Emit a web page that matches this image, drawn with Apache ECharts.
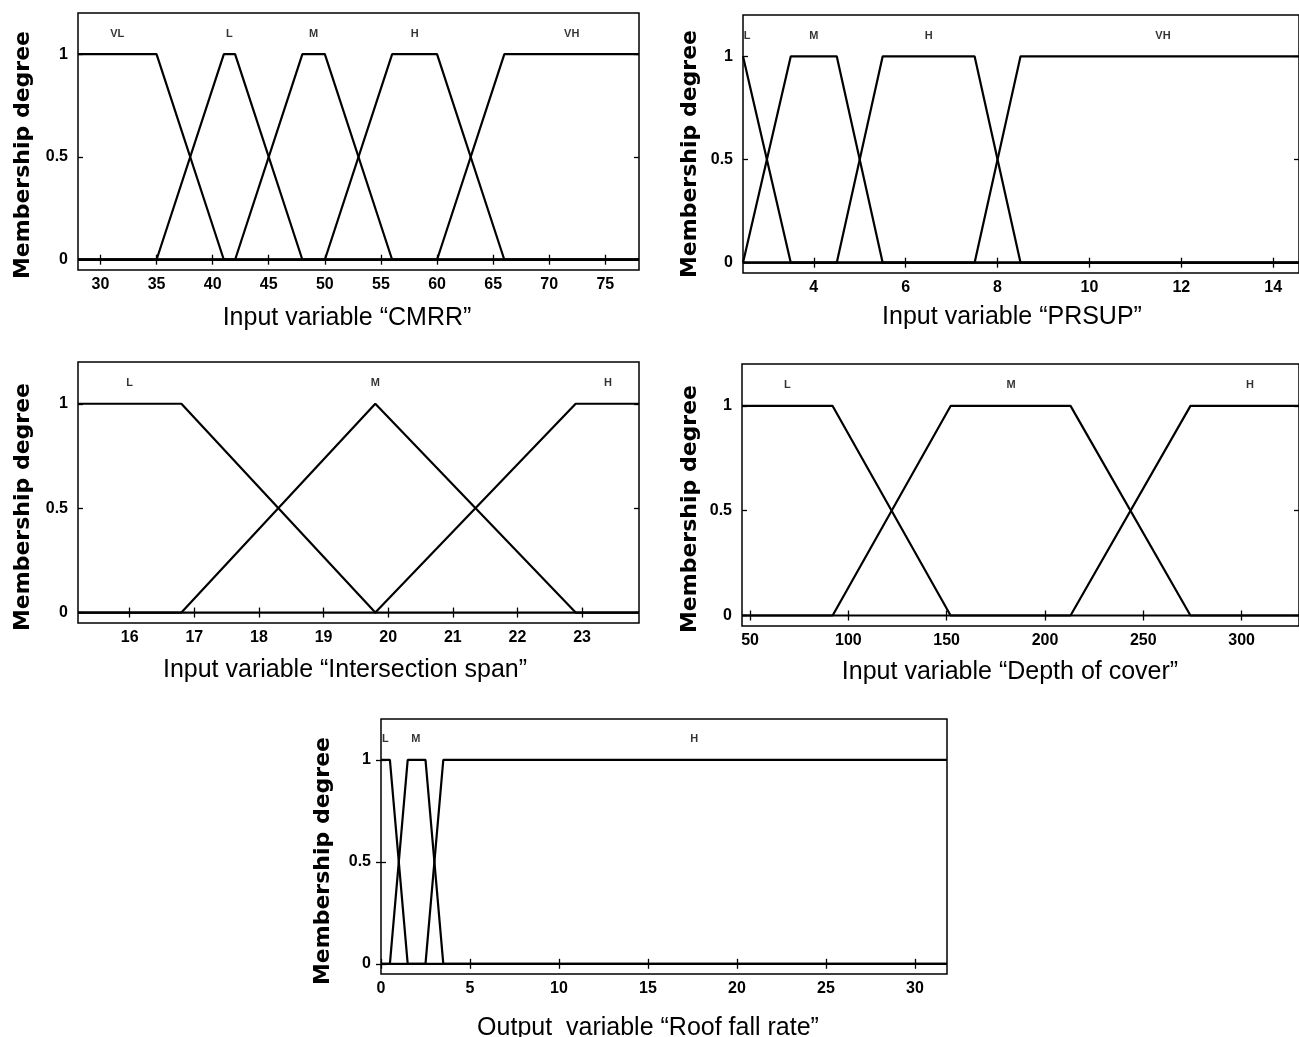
<!DOCTYPE html>
<html>
<head>
<meta charset="utf-8">
<script src="https://cdn.jsdelivr.net/npm/echarts@6/dist/echarts.min.js"></script>
<style>
html, body { margin: 0; padding: 0; background: #fff; }
#chart { width: 1299px; height: 1037px; }
</style>
</head>
<body>
<div id="chart"></div>
<script>
// shared membership levels
const yTicks = [0, 0.5, 1];
const nameLevel = 1.1;

// input "CMRR"
const cmrrTicks = [30, 35, 40, 45, 50, 55, 60, 65, 70, 75];
const cmrrVL = [[28, 1], [35, 1], [41, 0], [78, 0]];
const cmrrL = [[28, 0], [35, 0], [41, 1], [42, 1], [48, 0], [78, 0]];
const cmrrM = [[28, 0], [42, 0], [48, 1], [50, 1], [56, 0], [78, 0]];
const cmrrH = [[28, 0], [50, 0], [56, 1], [60, 1], [66, 0], [78, 0]];
const cmrrVH = [[28, 0], [60, 0], [66, 1], [78, 1]];
const cmrrNames = ['VL', 'L', 'M', 'H', 'VH'];
const cmrrNamePos = [31.5, 41.5, 49, 58, 72];

// input "PRSUP"
const prsupTicks = [4, 6, 8, 10, 12, 14];
const prsupL = [[2.46, 1], [3.5, 0], [14.56, 0]];
const prsupM = [[2.46, 0], [2.5, 0], [3.5, 1], [4.5, 1], [5.5, 0], [14.56, 0]];
const prsupH = [[2.46, 0], [4.5, 0], [5.5, 1], [7.5, 1], [8.5, 0], [14.56, 0]];
const prsupVH = [[2.46, 0], [7.5, 0], [8.5, 1], [14.56, 1]];
const prsupNames = ['L', 'M', 'H', 'VH'];
const prsupNamePos = [2.55, 4, 6.5, 11.6];

// input "Intersection span"
const spanTicks = [16, 17, 18, 19, 20, 21, 22, 23];
const spanL = [[15.2, 1], [16.8, 1], [19.8, 0], [23.88, 0]];
const spanM = [[15.2, 0], [16.8, 0], [19.8, 1], [22.9, 0], [23.88, 0]];
const spanH = [[15.2, 0], [19.8, 0], [22.9, 1], [23.88, 1]];
const spanNames = ['L', 'M', 'H'];
const spanNamePos = [16, 19.8, 23.4];

// input "Depth of cover"
const depthTicks = [50, 100, 150, 200, 250, 300];
const depthL = [[45.9, 1], [92, 1], [152, 0], [329.2, 0]];
const depthM = [[45.9, 0], [92, 0], [152, 1], [213, 1], [274, 0], [329.2, 0]];
const depthH = [[45.9, 0], [213, 0], [274, 1], [329.2, 1]];
const depthNames = ['L', 'M', 'H'];
const depthNamePos = [69, 182.7, 304.2];

// output "Roof fall rate"
const roofTicks = [0, 5, 10, 15, 20, 25, 30];
const roofL = [[0, 1], [0.5, 1], [1.5, 0], [31.8, 0]];
const roofM = [[0, 0], [0.5, 0], [1.5, 1], [2.5, 1], [3.5, 0], [31.8, 0]];
const roofH = [[0, 0], [2.5, 0], [3.5, 1], [31.8, 1]];
const roofNames = ['L', 'M', 'H'];
const roofNamePos = [0.25, 1.96, 17.6];

const panels = [
  { title: 'Input variable \u201cCMRR\u201d', ticks: cmrrTicks, mfs: [cmrrVL, cmrrL, cmrrM, cmrrH, cmrrVH],
    names: cmrrNames, namePos: cmrrNamePos,
    box: { left: 78, top: 13, width: 561, height: 257 }, range: [28, 78], titleAt: [347, 318], yNameAt: [23, 155] },
  { title: 'Input variable \u201cPRSUP\u201d', ticks: prsupTicks, mfs: [prsupL, prsupM, prsupH, prsupVH],
    names: prsupNames, namePos: prsupNamePos,
    box: { left: 743, top: 15, width: 557, height: 258 }, range: [2.46, 14.56], titleAt: [1012, 317], yNameAt: [690, 154] },
  { title: 'Input variable \u201cIntersection span\u201d', ticks: spanTicks, mfs: [spanL, spanM, spanH],
    names: spanNames, namePos: spanNamePos,
    box: { left: 78, top: 362, width: 561, height: 261 }, range: [15.2, 23.88], titleAt: [345, 670], yNameAt: [23, 507] },
  { title: 'Input variable \u201cDepth of cover\u201d', ticks: depthTicks, mfs: [depthL, depthM, depthH],
    names: depthNames, namePos: depthNamePos,
    box: { left: 742, top: 364, width: 558, height: 262 }, range: [45.9, 329.2], titleAt: [1010, 672], yNameAt: [690, 509] },
  { title: 'Output  variable \u201cRoof fall rate\u201d', ticks: roofTicks, mfs: [roofL, roofM, roofH],
    names: roofNames, namePos: roofNamePos,
    box: { left: 381, top: 719, width: 566, height: 255 }, range: [0, 31.8], titleAt: [648, 1028], yNameAt: [323, 861] }
];

const FONT = '"Liberation Sans", Arial, sans-serif';
const tickStyle = { color: '#000', width: 1.3 };

const grid = [], xAxis = [], yAxis = [], series = [], graphic = [];

panels.forEach((p, i) => {
  grid.push(Object.assign({ show: true, borderColor: '#000', borderWidth: 1.5, backgroundColor: '#fff' }, p.box));

  const xBase = { type: 'value', gridIndex: i, min: p.range[0], max: p.range[1], splitLine: { show: false }, axisLine: { show: false } };
  xAxis.push(Object.assign({}, xBase, {
    position: 'bottom',
    axisTick: { inside: true, length: 5, lineStyle: tickStyle, customValues: p.ticks },
    axisLabel: { customValues: p.ticks, color: '#000', fontSize: 16, fontWeight: 'bold', fontFamily: FONT, margin: 7 }
  }));
  xAxis.push(Object.assign({}, xBase, {
    position: 'top',
    axisTick: { inside: true, length: 5, lineStyle: tickStyle, customValues: p.ticks },
    axisLabel: { show: false }
  }));

  const yBase = { type: 'value', gridIndex: i, min: -0.05, max: 1.2, splitLine: { show: false }, axisLine: { show: false } };
  yAxis.push(Object.assign({}, yBase, {
    position: 'left',
    axisTick: { inside: true, length: 5, lineStyle: tickStyle, customValues: yTicks },
    axisLabel: { customValues: yTicks, color: '#000', fontSize: 16, fontWeight: 'bold', fontFamily: FONT, margin: 10 }
  }));
  yAxis.push(Object.assign({}, yBase, {
    position: 'right',
    axisTick: { inside: true, length: 5, lineStyle: tickStyle, customValues: yTicks },
    axisLabel: { show: false }
  }));

  p.mfs.forEach(mf => {
    series.push({
      type: 'line', xAxisIndex: 2 * i, yAxisIndex: 2 * i, data: mf,
      symbol: 'none', silent: true,
      lineStyle: { color: '#000', width: 2.2 }
    });
  });

  // MF names above the curves
  series.push({
    type: 'scatter', xAxisIndex: 2 * i, yAxisIndex: 2 * i, symbolSize: 0, silent: true, clip: false,
    data: p.names.map((n, k) => [p.namePos[k], nameLevel, n]),
    label: { show: true, position: 'inside', formatter: d => d.value[2], color: '#000', fontSize: 11, fontWeight: 'bold', fontFamily: FONT }
  });

  graphic.push({
    type: 'text', x: p.titleAt[0], y: p.titleAt[1],
    style: { text: p.title, fill: '#000', font: '25px ' + FONT, align: 'center', verticalAlign: 'middle' }
  });
  graphic.push({
    type: 'text', x: p.yNameAt[0], y: p.yNameAt[1], rotation: Math.PI / 2,
    style: { text: 'Membership degree', fill: '#000', font: 'bold 22px "DejaVu Sans", sans-serif', align: 'center', verticalAlign: 'middle' }
  });
});

const chart = echarts.init(document.getElementById('chart'));
chart.setOption({
  animation: false,
  backgroundColor: '#fff',
  grid, xAxis, yAxis, series, graphic
});
</script>
</body>
</html>
